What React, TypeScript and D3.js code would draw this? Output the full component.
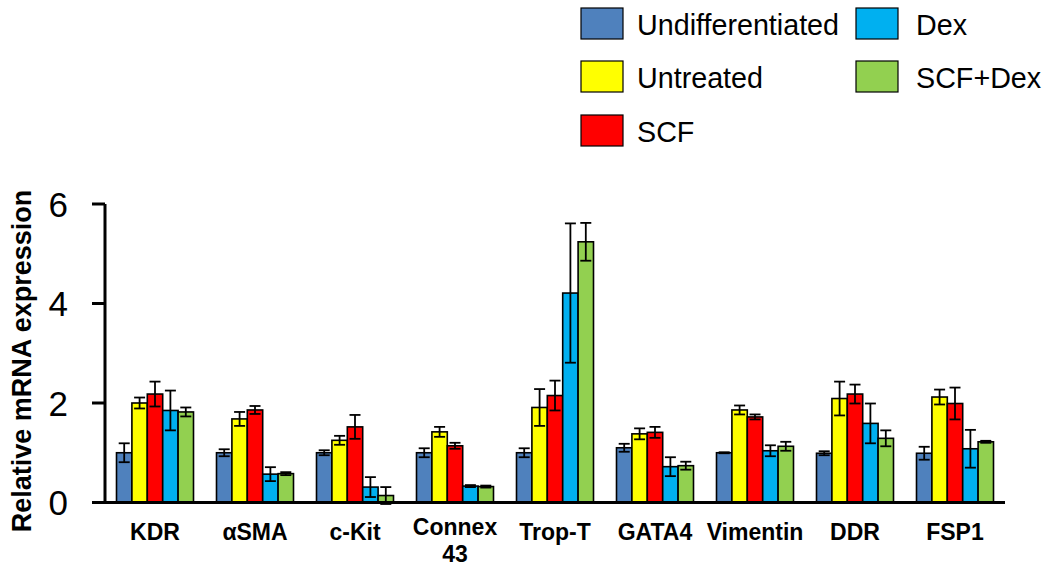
import React from "react";
import * as d3 from "d3";

const categories = ["KDR", "αSMA", "c-Kit", "Connex\n43", "Trop-T", "GATA4", "Vimentin", "DDR", "FSP1"];
const seriesNames = ["Undifferentiated", "Untreated", "SCF", "Dex", "SCF+Dex"];
const seriesColors = ["#4F81BD", "#FFFF00", "#FF0000", "#00B0F0", "#92D050"];

const undifferentiated = [1.0, 1.0, 1.0, 1.0, 1.0, 1.1, 1.0, 0.99, 0.99];
const undifferentiatedErr = [0.19, 0.07, 0.05, 0.09, 0.09, 0.08, 0.01, 0.04, 0.13];
const untreated = [2.0, 1.68, 1.25, 1.42, 1.91, 1.38, 1.86, 2.09, 2.12];
const untreatedErr = [0.11, 0.14, 0.09, 0.1, 0.37, 0.11, 0.09, 0.34, 0.15];
const scf = [2.18, 1.86, 1.52, 1.14, 2.15, 1.41, 1.72, 2.18, 1.99];
const scfErr = [0.25, 0.08, 0.24, 0.06, 0.3, 0.11, 0.05, 0.19, 0.32];
const dex = [1.85, 0.57, 0.31, 0.33, 4.21, 0.72, 1.04, 1.59, 1.08];
const dexErr = [0.4, 0.14, 0.2, 0.02, 1.4, 0.19, 0.11, 0.4, 0.38];
const scfDex = [1.82, 0.58, 0.14, 0.32, 5.24, 0.74, 1.13, 1.29, 1.22];
const scfDexErr = [0.09, 0.03, 0.17, 0.02, 0.38, 0.08, 0.09, 0.16, 0.02];

const yTicks = [0, 2, 4, 6];
const yTitle = "Relative mRNA expression";

const seriesValues = [undifferentiated, untreated, scf, dex, scfDex];
const seriesErrors = [undifferentiatedErr, untreatedErr, scfErr, dexErr, scfDexErr];

const FONT = "'Liberation Sans', Arial, Helvetica, sans-serif";

export default function App() {
  const x = d3.scaleBand<string>().domain(categories).range([105, 1005]).paddingInner(0.23).paddingOuter(0.115);
  const xs = d3.scaleBand<string>().domain(seriesNames).range([0, x.bandwidth()]).padding(0);
  const y = d3.scaleLinear().domain([0, 6]).range([502.5, 204]);
  const capHalf = 5.5;

  const legendCols = [581, 856];
  const legendRows = [8, 61, 115];

  return (
    <svg width={1049} height={570} style={{ position: "absolute", left: 0, top: 0, background: "#fff" }} fontFamily={FONT}>
      <rect x={0} y={0} width={1049} height={570} fill="#fff" />
      {/* legend */}
      {seriesNames.map((s, i) => {
        const col = Math.floor(i / 3);
        const row = i % 3;
        const lx = legendCols[col];
        const ly = legendRows[row];
        return (
          <g key={s}>
            <rect x={lx} y={ly} width={42} height={31} fill={seriesColors[i]} stroke="#000" strokeWidth={1.2} />
            <text x={col === 0 ? 637 : 916} y={ly + 27} fontSize={28.7} fill="#000">{s}</text>
          </g>
        );
      })}

      {/* bars */}
      {categories.map((c, ci) => (
        <g key={c} transform={`translate(${x(c)},0)`}>
          {seriesNames.map((s, si) => {
            const v = seriesValues[si][ci];
            return (
              <rect key={s} x={xs(s)} y={y(v)} width={xs.bandwidth()} height={y(0) - y(v)}
                fill={seriesColors[si]} stroke="#000" strokeWidth={1.6} />
            );
          })}
          {seriesNames.map((s, si) => {
            const v = seriesValues[si][ci];
            const e = seriesErrors[si][ci];
            const cx = (xs(s) as number) + xs.bandwidth() / 2;
            return (
              <g key={s + "e"} stroke="#000" strokeWidth={1.8}>
                <line x1={cx} x2={cx} y1={y(v + e)} y2={y(v - e)} />
                <line x1={cx - capHalf} x2={cx + capHalf} y1={y(v + e)} y2={y(v + e)} />
                <line x1={cx - capHalf} x2={cx + capHalf} y1={y(v - e)} y2={y(v - e)} />
              </g>
            );
          })}
        </g>
      ))}

      {/* axes */}
      <line x1={105} x2={105} y1={y(6)} y2={y(0)} stroke="#000" strokeWidth={3} />
      <line x1={103.5} x2={1005} y1={y(0)} y2={y(0)} stroke="#000" strokeWidth={3} />
      {yTicks.map((t) => (
        <g key={t}>
          <line x1={92} x2={105} y1={y(t)} y2={y(t)} stroke="#000" strokeWidth={3} />
          <text x={68} y={y(t)} dy="0.36em" textAnchor="end" fontSize={35} fill="#000">{t}</text>
        </g>
      ))}

      {/* category labels */}
      {categories.map((c) => {
        const lines = c.split("\n");
        const cx = (x(c) as number) + x.bandwidth() / 2;
        const baseY = lines.length > 1 ? 535 : 540;
        return (
          <text key={c} x={cx} y={baseY} textAnchor="middle" fontSize={23} fontWeight="bold" fill="#000">
            {lines.map((l, i) => (
              <tspan key={i} x={cx} dy={i === 0 ? 0 : 27}>{l}</tspan>
            ))}
          </text>
        );
      })}

      {/* y title */}
      <text transform={`translate(31,361) rotate(-90)`} textAnchor="middle" fontSize={27} fontWeight="bold" fill="#000">
        {yTitle}
      </text>
    </svg>
  );
}
